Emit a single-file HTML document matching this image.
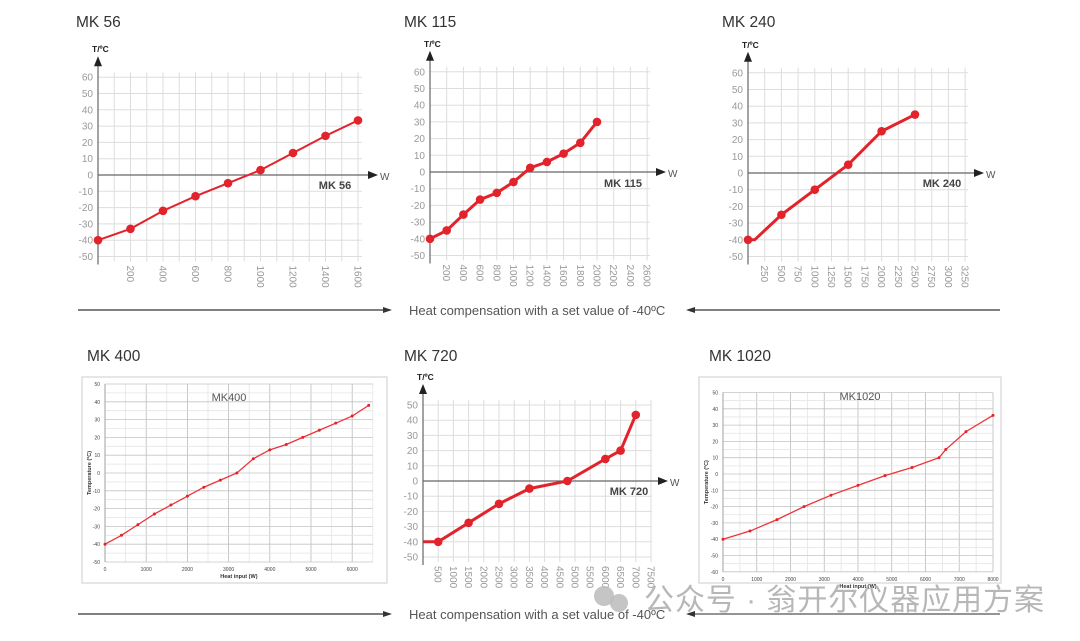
<!DOCTYPE html>
<html><head><meta charset="utf-8">
<style>
html,body{margin:0;padding:0;background:#fff;}
svg{display:block;font-family:"Liberation Sans","Noto Sans CJK SC",sans-serif;}
</style></head>
<body>
<svg id="s" width="1080" height="641" viewBox="0 0 1080 641" xmlns="http://www.w3.org/2000/svg">
<text x="76" y="27" font-size="15.5" fill="#333">MK 56</text>
<text x="404" y="27" font-size="15.5" fill="#333">MK 115</text>
<text x="722" y="27" font-size="15.5" fill="#333">MK 240</text>
<text x="87" y="361" font-size="15.5" fill="#333">MK 400</text>
<text x="404" y="361" font-size="15.5" fill="#333">MK 720</text>
<text x="709" y="361" font-size="15.5" fill="#333">MK 1020</text>

<line x1="78" y1="310" x2="386" y2="310" stroke="#333" stroke-width="1.2"/><polygon points="392,310 383,307 383,313" fill="#333"/>
<line x1="1000" y1="310" x2="692" y2="310" stroke="#333" stroke-width="1.2"/><polygon points="686,310 695,307 695,313" fill="#333"/>
<text x="409" y="315" font-size="13" fill="#555">Heat compensation with a set value of -40ºC</text>
<line x1="78" y1="614" x2="386" y2="614" stroke="#333" stroke-width="1.2"/><polygon points="392,614 383,611 383,617" fill="#333"/>
<line x1="1000" y1="614" x2="692" y2="614" stroke="#555" stroke-width="1.2"/><polygon points="686,614 695,611 695,617" fill="#333"/>
<text x="409" y="619" font-size="13" fill="#555">Heat compensation with a set value of -40ºC</text>
<g id="g"></g>
<circle cx="604" cy="596" r="10" fill="#bbb" opacity="0.85"/><circle cx="619" cy="603" r="9" fill="#bbb" opacity="0.85"/>
<text x="644" y="610" font-size="30" fill="#aaa" fill-opacity="0.85" textLength="400" lengthAdjust="spacing">公众号 · 翁开尔仪器应用方案</text>
</svg>
<script>
var g=document.getElementById('g'),h='';
function L(x1,y1,x2,y2,c,w){h+='<line x1="'+x1+'" y1="'+y1+'" x2="'+x2+'" y2="'+y2+'" stroke="'+c+'" stroke-width="'+w+'"/>';}
function T(x,y,t,s,c,extra){h+='<text x="'+x+'" y="'+y+'" font-size="'+s+'" fill="'+c+'" '+(extra||'')+'>'+t+'</text>';}
function A(o){
 var X=function(v){return o.x0+v*o.xs;},Y=function(v){return o.y0-v*o.ys/10;};
 var top=Y(o.ymax)-5,bot=Y(o.ymin)+5;
 for(var v=o.xstep;v<=o.xmax;v+=o.xstep)L(X(v),top,X(v),bot,'#ddd',1);
 for(var v=o.ymin;v<=o.ymax;v+=10){L(o.x0,Y(v),o.xr,Y(v),'#ddd',1);T(o.x0-5,Y(v)+3.5,v,10,'#999','text-anchor="end"');}
 L(o.x0,Y(0),o.xr+8,Y(0),'#666',1.2);h+='<polygon points="'+(o.xr+16)+','+Y(0)+' '+(o.xr+6)+','+(Y(0)-4)+' '+(o.xr+6)+','+(Y(0)+4)+'" fill="#222"/>';
 T(o.xr+18,Y(0)+5,'W',10,'#555');
 L(o.x0,bot+3,o.x0,top-8,'#666',1.2);h+='<polygon points="'+o.x0+','+(top-16)+' '+(o.x0-4)+','+(top-6)+' '+(o.x0+4)+','+(top-6)+'" fill="#222"/>';
 T(o.x0-6,top-20,'T/ºC',8.5,'#222','font-weight="bold"');
 for(var i=0;i<o.labs.length;i++){var v=o.labs[i],x=X(v),y=bot+4;T(x-3.5,y,v,10,'#999','transform="rotate(90 '+(x-3.5)+' '+y+')"');}
 T(o.lx,o.ly,o.name,11,'#444','font-weight="bold" text-anchor="middle"');
 var p=o.d.map(function(q){return X(q[0])+','+Y(q[1]);}).join(' ');
 h+='<polyline points="'+p+'" fill="none" stroke="#e2232b" stroke-width="'+o.lw+'"/>';
 o.d.forEach(function(q,i){if(o.skip&&o.skip.indexOf(i)>=0)return;h+='<circle cx="'+X(q[0])+'" cy="'+Y(q[1])+'" r="4.3" fill="#e2232b"/>';});
}
function B(o){
 var X=function(v){return o.x0+v*o.xs;},Y=function(v){return o.y0-v*o.ys/10;};
 h+='<rect x="'+o.bx+'" y="'+o.by+'" width="'+o.bw+'" height="'+o.bh+'" fill="#fff" stroke="#ccc" stroke-width="1"/>';
 var xr=X(o.xmax),yt=Y(o.ymax),yb=Y(o.ymin);
 for(var v=0;v<=o.xmax;v+=500)L(X(v),yt,X(v),yb,v%1000?'#e4e4e4':'#bbb',0.8);
 for(var v=o.ymin;v<=o.ymax;v+=5)L(X(0),Y(v),xr,Y(v),v%10?'#e4e4e4':'#c4c4c4',0.8);
 L(X(0),yt,X(0),yb,'#999',0.8);
 for(var v=o.ymin;v<=o.ymax;v+=10)T(X(0)-5,Y(v)+2,v,5,'#444','text-anchor="end"');
 for(var v=0;v<=o.xlab;v+=1000)T(X(v),yb+9,v,5,'#444','text-anchor="middle"');
 T((X(0)+xr)/2,yb+16,'Heat input (W)',5.5,'#333','font-weight="bold" text-anchor="middle"');
 T(o.bx+9,(yt+yb)/2,'Temperature (ºC)',5.5,'#333','font-weight="bold" text-anchor="middle" transform="rotate(-90 '+(o.bx+9)+' '+(yt+yb)/2+')"');
 T(o.tx,o.ty,o.name,11,'#555','text-anchor="middle"');
 var p=o.d.map(function(q){return X(q[0])+','+Y(q[1]);}).join(' ');
 h+='<polyline points="'+p+'" fill="none" stroke="#ee3338" stroke-width="1.3"/>';
 o.d.forEach(function(q){h+='<circle cx="'+X(q[0])+'" cy="'+Y(q[1])+'" r="1.5" fill="#e2232b"/>';});
}
A({x0:98,xs:260/1600,xstep:100,xmax:1600,xr:362,y0:175,ys:16.3,ymin:-50,ymax:60,labs:[200,400,600,800,1000,1200,1400,1600],lx:335,ly:189,name:'MK 56',lw:2,
 d:[[0,-40],[200,-33],[400,-22],[600,-13],[800,-5],[1000,3],[1200,13.5],[1400,24],[1600,33.5]]});
A({x0:430,xs:16.7/200,xstep:200,xmax:2600,xr:650,y0:172,ys:16.7,ymin:-50,ymax:60,labs:[200,400,600,800,1000,1200,1400,1600,1800,2000,2200,2400,2600],lx:623,ly:187,name:'MK 115',lw:3,
 d:[[0,-40],[200,-35],[400,-25.5],[600,-16.5],[800,-12.5],[1000,-6],[1200,2.5],[1400,6],[1600,11],[1800,17.5],[2000,30]]});
A({x0:748,xs:16.7/250,xstep:250,xmax:3250,xr:968,y0:173,ys:16.7,ymin:-50,ymax:60,labs:[250,500,750,1000,1250,1500,1750,2000,2250,2500,2750,3000,3250],lx:942,ly:187,name:'MK 240',lw:3,
 d:[[0,-40],[100,-40],[500,-25],[1000,-10],[1500,5],[2000,25],[2500,35]],skip:[1]});
A({x0:423,xs:15.2/500,xstep:500,xmax:7500,xr:652,y0:481,ys:15.2,ymin:-50,ymax:50,labs:[500,1000,1500,2000,2500,3000,3500,4000,4500,5000,5500,6000,6500,7000,7500],lx:629,ly:495,name:'MK 720',lw:3,
 d:[[0,-40],[500,-40],[1500,-27.5],[2500,-15],[3500,-5],[4750,0],[6000,14.5],[6500,20],[7000,43.5]],skip:[0]});
B({bx:82,by:377,bw:305,bh:206,x0:105,xs:41.2/1000,xmax:6500,xlab:6000,y0:473,ys:17.8,ymin:-50,ymax:50,tx:229,ty:401,name:'MK400',
 d:[[0,-40],[400,-35],[800,-29],[1200,-23],[1600,-18],[2000,-13],[2400,-8],[2800,-4],[3200,0],[3600,8],[4000,13],[4400,16],[4800,20],[5200,24],[5600,28],[6000,32],[6400,38]]});
B({bx:699,by:377,bw:302,bh:206,x0:723,xs:33.75/1000,xmax:8000,xlab:8000,y0:474,ys:16.3,ymin:-60,ymax:50,tx:860,ty:400,name:'MK1020',
 d:[[0,-40],[800,-35],[1600,-28],[2400,-20],[3200,-13],[4000,-7],[4800,-1],[5600,4],[6400,10],[6600,15],[7200,26],[8000,36]]});
g.innerHTML=h;
</script>
</body></html>
